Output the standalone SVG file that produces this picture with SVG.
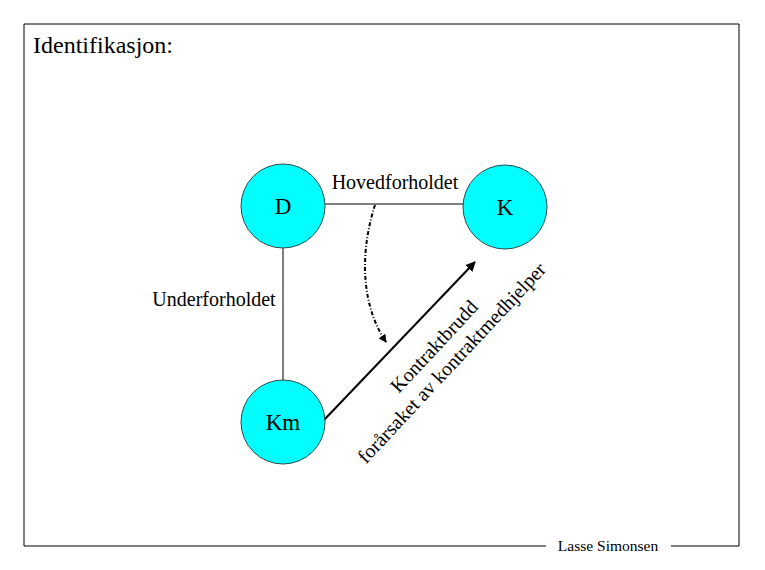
<svg xmlns="http://www.w3.org/2000/svg" width="765" height="570" viewBox="0 0 765 570">
<style>
text{font-family:'Liberation Serif','Times New Roman',serif;fill:#000}
.n{fill:#00FFFF;stroke:#2a4a4a;stroke-width:1}
.ln{stroke:#000;stroke-width:1;fill:none}
</style>
<defs>
<marker id="ah" viewBox="0 0 10 10" refX="9" refY="5" markerWidth="5" markerHeight="5" orient="auto" markerUnits="strokeWidth">
<path d="M0,0 L10,5 L0,10 z" fill="#000"/>
</marker>
<marker id="ah2" viewBox="0 0 10 10" refX="9" refY="5" markerWidth="4" markerHeight="4" orient="auto" markerUnits="strokeWidth">
<path d="M0,0 L10,5 L0,10 z" fill="#000"/>
</marker>
</defs>
<rect width="765" height="570" fill="#fff"/>
<g id="frame">
<path class="ln" d="M546,546 L24,546 L24,24 L739,24 L739,546 L671,546"/>
<text x="608" y="551" font-size="15.5" text-anchor="middle">Lasse Simonsen</text>
</g>
<text x="33" y="53" font-size="24">Identifikasjon:</text>
<g id="connectors">
<line class="ln" x1="325" y1="204" x2="463" y2="204"/>
<line class="ln" x1="283" y1="247" x2="283" y2="381"/>
<line stroke="#000" stroke-width="2" x1="324" y1="420" x2="475" y2="262" marker-end="url(#ah)"/>
<path d="M375,205 C362,245 358,300 386,342" fill="none" stroke="#000" stroke-width="2" stroke-dasharray="4,2,1,2" marker-end="url(#ah2)"/>
<text x="395" y="189" font-size="20" text-anchor="middle">Hovedforholdet</text>
<text x="214" y="306" font-size="20" text-anchor="middle">Underforholdet</text>
<g transform="translate(439,351) rotate(-47)">
<text x="0" y="0" font-size="20" text-anchor="middle">Kontraktbrudd</text>
<text x="0" y="24" font-size="20" text-anchor="middle">forårsaket av kontraktmedhjelper</text>
</g>
</g>
<g id="D">
<circle class="n" cx="283" cy="206" r="42"/>
<text x="283" y="214" font-size="23" text-anchor="middle">D</text>
</g>
<g id="K">
<circle class="n" cx="505" cy="207" r="42"/>
<text x="505" y="215" font-size="23" text-anchor="middle">K</text>
</g>
<g id="Km">
<circle class="n" cx="283" cy="422" r="42"/>
<text x="283" y="430" font-size="23" text-anchor="middle">Km</text>
</g>
</svg>
